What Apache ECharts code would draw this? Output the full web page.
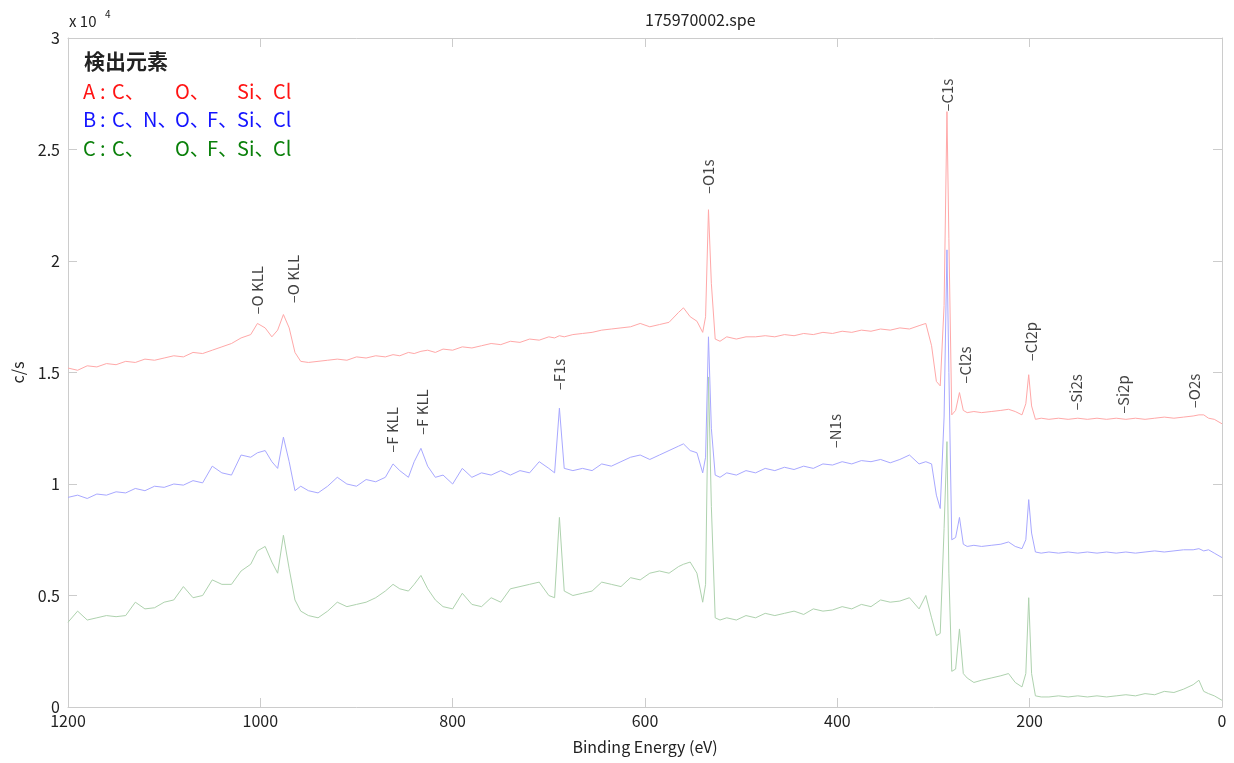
<!DOCTYPE html>
<html><head><meta charset="utf-8">
<script src="https://cdn.jsdelivr.net/npm/echarts@6/dist/echarts.min.js"></script>
<style>html,body{margin:0;padding:0;background:#fff}#c{width:1234px;height:763px}</style>
</head><body><div id="c"></div>
<script>
// ---- data ----
const energy = [
 1200,1190,1180,1170,1160,1150,1140,1130,1120,1110,
 1100,1090,1080,1070,1060,1050,1040,1030,1020,1010,
 1003,995,988,982,976,970,964,958,950,940,
 930,920,910,900,890,880,870,862,855,846,
 840,833,826,818,810,800,790,780,770,760,
 750,740,730,720,710,700,694,689,684,675,
 665,655,645,635,625,615,605,595,585,575,
 565,560,553,546,540,537,534,531,527,522,
 515,505,495,485,475,465,455,445,435,425,
 415,405,395,385,375,365,355,345,335,325,
 315,308,302,297,293,289,286,284,281,277,
 273,269,265,258,250,240,230,222,215,208,
 204,201,198,194,188,180,170,160,150,140,
 130,120,110,100,90,80,70,60,50,40,
 30,24,19,14,8,0];
const countsA = [
 15200,15100,15300,15250,15400,15350,15500,15450,15600,15550,
 15650,15750,15700,15900,15850,16000,16150,16300,16550,16700,
 17200,17000,16600,16900,17600,17000,15900,15500,15450,15500,
 15550,15600,15550,15700,15650,15750,15700,15800,15750,15900,
 15850,15950,16000,15900,16050,16000,16150,16100,16200,16300,
 16250,16400,16350,16500,16450,16600,16550,16650,16600,16700,
 16750,16800,16900,16950,17000,17050,17200,17050,17150,17250,
 17700,17900,17500,17300,16800,17500,22300,19000,16500,16400,
 16600,16500,16600,16600,16650,16600,16700,16650,16750,16700,
 16800,16750,16850,16800,16900,16850,16950,16900,17000,16950,
 17100,17200,16200,14600,14400,18000,26700,21000,13100,13300,
 14100,13300,13200,13250,13200,13250,13300,13350,13250,13100,
 13600,14900,13500,12900,12950,12900,12950,12900,12950,12900,
 12950,12900,12950,12900,12950,12900,12950,13000,12950,13000,
 13050,13100,13100,12950,12900,12700];
const countsB = [
 9400,9500,9350,9550,9500,9650,9600,9800,9700,9900,
 9850,10000,9950,10150,10050,10800,10500,10400,11300,11200,
 11400,11500,11000,10700,12100,11000,9700,9900,9700,9600,
 9900,10300,10000,9900,10200,10100,10300,10900,10600,10300,
 11000,11600,10800,10300,10400,10000,10700,10300,10500,10400,
 10600,10400,10600,10500,11000,10700,10500,13400,10700,10600,
 10700,10600,10900,10800,11000,11200,11300,11100,11300,11500,
 11700,11800,11500,11400,10500,11200,16600,12500,10400,10300,
 10500,10400,10600,10500,10700,10600,10750,10650,10800,10700,
 10900,10850,11000,10900,11050,11000,11100,10950,11100,11300,
 10900,11000,10900,9500,8900,13000,20500,15000,7500,7600,
 8500,7300,7200,7250,7200,7250,7300,7400,7200,7100,
 7500,9300,7800,6950,6900,6950,6900,6950,6900,6950,
 6900,6950,6900,6950,6900,6950,7000,6950,7000,7050,
 7050,7100,7000,7050,6900,6700];
const countsC = [
 3800,4300,3900,4000,4100,4050,4100,4700,4400,4450,
 4700,4800,5400,4900,5000,5700,5500,5500,6100,6400,
 7000,7200,6500,6000,7700,6200,4800,4300,4100,4000,
 4300,4700,4500,4600,4700,4900,5200,5500,5300,5200,
 5500,5900,5300,4800,4500,4400,5100,4600,4500,4900,
 4700,5300,5400,5500,5600,5000,4900,8500,5200,5000,
 5100,5200,5600,5500,5400,5800,5700,6000,6100,6000,
 6300,6400,6500,6000,4700,5500,14800,9000,4000,3900,
 4000,3900,4100,4000,4200,4100,4200,4300,4150,4400,
 4300,4350,4500,4400,4600,4500,4800,4700,4750,4900,
 4400,5000,4000,3200,3300,8000,11900,6000,1600,1700,
 3500,1500,1300,1100,1200,1300,1400,1500,1100,900,
 1500,4900,1500,500,450,450,500,450,500,450,
 500,450,500,550,500,600,550,700,650,800,
 1000,1200,700,600,500,300];
const peakNames  = ['O KLL','O KLL','F KLL','F KLL','F1s','O1s','N1s','C1s','Cl2s','Cl2p','Si2s','Si2p','O2s'];
const peakEnergy = [1003,966,863,832,689,534,402,286,267,198,152,103,29];
const peakLabelY = [17600,18100,11400,12200,14200,23000,11600,26700,14500,15500,13300,13150,13400];
const xTicks = {min:0, max:1200, interval:200};
const yTicks = {min:0, max:30000, interval:5000};
const titleText = '175970002.spe';
const legendHeader = '検出元素';
const legendRows = [
  {tag:'A', cells:['C、','','O、','','Si、','Cl']},
  {tag:'B', cells:['C、','N、','O、','F、','Si、','Cl']},
  {tag:'C', cells:['C、','','O、','F、','Si、','Cl']}
];

// ---- styles / layout ----
const FONT = '"Noto Sans CJK JP", "Liberation Sans", sans-serif';
const lineColors = ['#ffa8a8','#a8a8ff','#aed2ae'];
const textColors = ['#ff1414','#1414ff','#0a800a'];
const boxColor = '#cccccc';
const G = {left:68, right:12, top:38, bottom:56};
const colX = [112,143,175,207,237,273];
const rowY = [93,121,150];

const chart = echarts.init(document.getElementById('c'), null, {renderer:'canvas'});
function pairs(vals){ return energy.map((e,i)=>[e, vals[i]]); }

const graphics = [];
graphics.push({type:'text', left: (G.left + 1234 - G.right)/2, top: 12, style:{text:titleText, font:'16px '+FONT, fill:'#222', textAlign:'center'}});
graphics.push({type:'text', x: 69, y: 14, style:{text:'x 10', font:'15px '+FONT, fill:'#222'}});
graphics.push({type:'text', x: 105, y: 9, style:{text:'4', font:'10px '+FONT, fill:'#222'}});
graphics.push({type:'text', x: 84, y: 51, style:{text:legendHeader, font:'bold 21px '+FONT, fill:'#222'}});
legendRows.forEach((r, ri)=>{
  graphics.push({type:'text', x: 83, y: rowY[ri]-12, style:{text:r.tag, font:'20px '+FONT, fill:textColors[ri]}});
  graphics.push({type:'text', x: 100, y: rowY[ri]-12, style:{text:':', font:'20px '+FONT, fill:textColors[ri]}});
  r.cells.forEach((c, ci)=>{
    if(!c) return;
    graphics.push({type:'text', x: colX[ci], y: rowY[ri]-12, style:{text:c, font:'20px '+FONT, fill:textColors[ri]}});
  });
});

const axisCommon = {
  axisLine:{show:true, onZero:false, lineStyle:{color:boxColor, width:1}},
  axisTick:{show:true, inside:true, length:9, lineStyle:{color:boxColor}},
  splitLine:{show:false}
};

chart.setOption({
  animation:false,
  backgroundColor:'#fff',
  grid:{left:G.left, right:G.right, top:G.top, bottom:G.bottom, containLabel:false},
  xAxis:[
    Object.assign({type:'value', position:'bottom', inverse:true, min:xTicks.min, max:xTicks.max, interval:xTicks.interval,
      name:'Binding Energy (eV)', nameLocation:'middle', nameGap:32,
      nameTextStyle:{fontFamily:FONT, fontSize:16, color:'#222'},
      axisLabel:{fontFamily:FONT, fontSize:16, color:'#222', margin:6, formatter:v=>String(v)}}, axisCommon),
    Object.assign({type:'value', position:'top', inverse:true, min:xTicks.min, max:xTicks.max, interval:xTicks.interval,
      axisLabel:{show:false}}, axisCommon)
  ],
  yAxis:[
    Object.assign({type:'value', position:'left', min:yTicks.min, max:yTicks.max, interval:yTicks.interval,
      name:'c/s', nameLocation:'middle', nameGap:42, nameRotate:90,
      nameTextStyle:{fontFamily:FONT, fontSize:16, color:'#222'},
      axisLabel:{fontFamily:FONT, fontSize:16, color:'#222', margin:8, formatter:v=>String(v/10000)}}, axisCommon),
    Object.assign({type:'value', position:'right', min:yTicks.min, max:yTicks.max, interval:yTicks.interval,
      axisLabel:{show:false}}, axisCommon)
  ],
  series:[
    {name:'A', type:'line', data:pairs(countsA), showSymbol:false, symbol:'none', lineStyle:{color:lineColors[0], width:1}, z:3},
    {name:'B', type:'line', data:pairs(countsB), showSymbol:false, symbol:'none', lineStyle:{color:lineColors[1], width:1}, z:2},
    {name:'C', type:'line', data:pairs(countsC), showSymbol:false, symbol:'none', lineStyle:{color:lineColors[2], width:1}, z:1},
    {name:'peaks', type:'scatter', symbolSize:0, silent:true, z:5,
      data: peakNames.map((n,i)=>({value:[peakEnergy[i], peakLabelY[i]], name:n})),
      label:{show:true, position:[0,0], rotate:90, align:'left', verticalAlign:'middle',
        formatter:p=>'\u2013'+p.name, fontFamily:FONT, fontSize:15, color:'#111'}}
  ],
  graphic: graphics
});
</script></body></html>
